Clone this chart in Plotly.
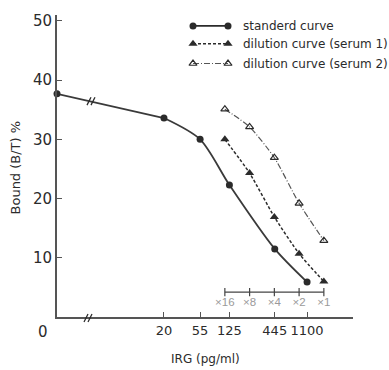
import plotly.graph_objects as go

# ---------------- data ----------------
conc_std = [0, 20, 55, 125, 445, 1100]
bound_std = [37.7, 33.6, 30.0, 22.3, 11.5, 5.9]

dilution_conc = [110, 220, 440, 880, 1760]
dilution_labels = ["×16", "×8", "×4", "×2", "×1"]
bound_serum1 = [30.0, 24.3, 16.9, 10.7, 6.0]
bound_serum2 = [35.1, 32.1, 26.9, 19.2, 12.9]

x_tick_vals = [20, 55, 125, 445, 1100]
y_tick_vals = [10, 20, 30, 40, 50]

legend_names = ["standerd curve", "dilution curve (serum 1)", "dilution curve (serum 2)"]

ZERO_POS = 1  # where concentration 0 is drawn on the broken log axis

# ---------------- layout constants ----------------
W, H = 389, 370
L, R, T, B = 57, 36, 12, 53
PW, PH = W - L - R, H - T - B
X_RANGE = [0, 3.6]
Y_RANGE = [0, 51]
INK = "#2b2b2b"
FONT = "DejaVu Sans, Verdana, sans-serif"
FONT2 = "Liberation Sans, Arial, sans-serif"


def pxx(px):
    return (px - L) / PW


def pxy(py):
    return (H - B - py) / PH


x_std = [ZERO_POS if c == 0 else c for c in conc_std]

fig = go.Figure()

# standard curve: straight across the break, smooth afterwards
fig.add_trace(go.Scatter(x=x_std[:2], y=bound_std[:2], mode="lines",
                         line=dict(color="#3a3a3a", width=1.8), showlegend=False))
fig.add_trace(go.Scatter(x=x_std[1:], y=bound_std[1:], mode="lines",
                         line=dict(color="#3a3a3a", width=1.8, shape="spline", smoothing=0.8),
                         showlegend=False))
fig.add_trace(go.Scatter(x=x_std, y=bound_std, mode="markers",
                         marker=dict(symbol="circle", size=7, color=INK),
                         showlegend=False, cliponaxis=False))

fig.add_trace(go.Scatter(x=dilution_conc, y=bound_serum1, mode="lines+markers",
                         line=dict(color=INK, width=1.5, dash="3px,2px", shape="spline", smoothing=0.6),
                         marker=dict(symbol="triangle-up", size=8, color=INK),
                         showlegend=False))
fig.add_trace(go.Scatter(x=dilution_conc, y=bound_serum2, mode="lines+markers",
                         line=dict(color="#555", width=1.2, dash="6px,2px,1px,2px", shape="spline", smoothing=0.6),
                         marker=dict(symbol="triangle-up-open", size=7, color=INK, line=dict(width=1.2)),
                         showlegend=False))

# dilution scale bar
BAR_Y = 4.2
LABEL_Y = 2.3
fig.add_trace(go.Scatter(x=dilution_conc, y=[BAR_Y] * len(dilution_conc), mode="lines+markers",
                         line=dict(color="#444", width=1.2),
                         marker=dict(symbol="line-ns", size=6, line=dict(color="#444", width=1.2)),
                         showlegend=False))
fig.add_trace(go.Scatter(x=dilution_conc, y=[LABEL_Y] * len(dilution_conc), mode="text",
                         text=dilution_labels, textposition="middle center",
                         textfont=dict(family=FONT2, size=11.5, color="#9a9a9a"),
                         showlegend=False))

# ---------------- custom legend ----------------
leg_rows = [23, 41, 61]
leg_styles = [
    dict(line=dict(color=INK, width=1.8), marker=dict(symbol="circle", size=7, color=INK)),
    dict(line=dict(color=INK, width=1.5, dash="3px,2px"), marker=dict(symbol="triangle-up", size=8, color=INK)),
    dict(line=dict(color="#555", width=1.2, dash="6px,2px,1px,2px"),
         marker=dict(symbol="triangle-up-open", size=7, color=INK, line=dict(width=1.2))),
]
for row, style, name in zip(leg_rows, leg_styles, legend_names):
    fig.add_trace(go.Scatter(x=[193, 228], y=[row, row], mode="lines+markers",
                             xaxis="x2", yaxis="y2", showlegend=False, **style))
    fig.add_annotation(x=pxx(241), y=pxy(row), xref="paper", yref="paper", text=name,
                       showarrow=False, xanchor="left", yanchor="middle",
                       font=dict(family=FONT, size=12, color=INK))

# axis titles and origin label
fig.add_annotation(x=pxx(15), y=pxy(166), xref="paper", yref="paper", text="Bound (B/T) %",
                   textangle=-90, showarrow=False, xanchor="center", yanchor="middle",
                   font=dict(family=FONT, size=13, color=INK))
fig.add_annotation(x=pxx(205), y=pxy(359), xref="paper", yref="paper", text="IRG (pg/ml)",
                   showarrow=False, xanchor="center", yanchor="middle",
                   font=dict(family=FONT, size=12, color=INK))
fig.add_annotation(x=pxx(43), y=pxy(332), xref="paper", yref="paper", text="0",
                   showarrow=False, xanchor="center", yanchor="middle",
                   font=dict(family=FONT, size=15, color=INK))

# break marks on the x axis and on the standard curve
shapes = []
for cx, cy in [(88, 318), (91, 99)]:
    for dx in (-2, 2):
        shapes.append(dict(type="line", xref="paper", yref="paper",
                           x0=pxx(cx + dx - 2), y0=pxy(cy + 4), x1=pxx(cx + dx + 2), y1=pxy(cy - 4),
                           line=dict(color=INK, width=1.3)))

fig.update_layout(
    width=W, height=H, margin=dict(l=L, r=R, t=T, b=B),
    paper_bgcolor="white", plot_bgcolor="white",
    font=dict(family=FONT, color=INK),
    shapes=shapes,
    xaxis=dict(type="log", range=X_RANGE, tickvals=x_tick_vals, ticktext=[str(v) for v in x_tick_vals],
               tickangle=0,
               ticks="inside", ticklen=5, tickwidth=1.3, tickcolor="#555",
               showline=True, linecolor="#555", linewidth=2, showgrid=False, zeroline=False,
               tickfont=dict(family=FONT, size=13, color=INK)),
    yaxis=dict(range=Y_RANGE, tickvals=y_tick_vals, ticks="inside", ticklen=5, tickwidth=1.3,
               tickcolor="#555", showline=True, linecolor="#555", linewidth=2, showgrid=False,
               zeroline=False, tickfont=dict(family=FONT, size=15, color=INK)),
    xaxis2=dict(overlaying="x", range=[L, L + PW], visible=False, fixedrange=True),
    yaxis2=dict(overlaying="y", range=[H - B, T], visible=False, fixedrange=True),
)

fig.write_html("out.html")
